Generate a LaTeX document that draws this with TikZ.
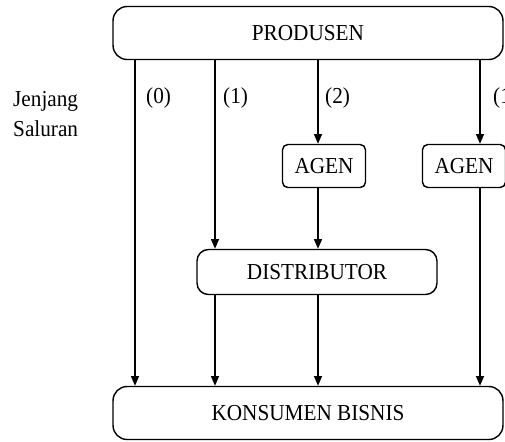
\documentclass[tikz,border=0pt]{standalone}
\usepackage{fontspec}
\setmainfont[FakeStretch=0.93]{Liberation Serif}
\usetikzlibrary{arrows.meta}

\begin{document}
\begin{tikzpicture}[
  x=0.02cm, y=-0.02cm,
  font=\fontsize{13}{15}\selectfont,
  box/.style={draw, line width=0.8pt, align=center, inner sep=0pt},
  wide/.style={box, rounded corners=8pt, minimum width=7.8cm, minimum height=1.06cm},
  mid/.style={box, rounded corners=6.5pt, minimum width=4.8cm, minimum height=0.9cm},
  small/.style={box, rounded corners=3pt, minimum width=1.66cm, minimum height=0.86cm},
  arr/.style={-{Triangle[length=5.5pt,width=4.5pt]}, line width=0.8pt},
  lvl/.style={anchor=west}
]
\useasboundingbox (0,0) rectangle (505,441);

\node[wide]  (prod)  at (308,33)  {PRODUSEN};
\node[small] (agen1) at (324,166) {AGEN};
\node[small] (agen2) at (464,166) {AGEN};
\node[mid]   (dist)  at (317,272) {DISTRIBUTOR};
\node[wide]  (kons)  at (308,413) {KONSUMEN BISNIS};
\node[align=left, anchor=west, font=\fontsize{13}{17}\selectfont] (jenjang) at (7,114) {Jenjang\\Saluran};

% channel lines
\coordinate (c0) at (135,0);
\coordinate (c1) at (215,0);
\coordinate (c2) at (318,0);
\coordinate (c3) at (480,0);

\draw[arr] (prod.south -| c0) -- (kons.north -| c0);
\draw[arr] (prod.south -| c1) -- (dist.north -| c1);
\draw[arr] (prod.south -| c2) -- (agen1.north -| c2);
\draw[arr] (prod.south -| c3) -- (agen2.north -| c3);
\draw[arr] (agen1.south -| c2) -- (dist.north -| c2);
\draw[arr] (dist.south -| c1) -- (kons.north -| c1);
\draw[arr] (dist.south -| c2) -- (kons.north -| c2);
\draw[arr] (agen2.south -| c3) -- (kons.north -| c3);

\node[lvl] (l0) at (140,98) {(0)};
\node[lvl] (l1) at (217,98) {(1)};
\node[lvl] (l2) at (319,98) {(2)};
\node[lvl] (l3) at (487,98) {(1)};
\end{tikzpicture}
\end{document}
